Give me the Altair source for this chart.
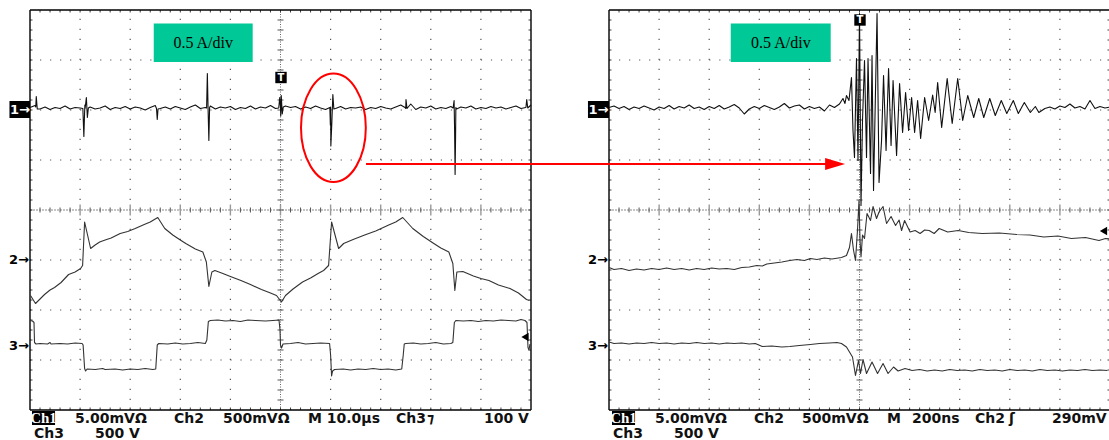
import altair as alt
import pandas as pd

# ---------------- values read from the two scope screens (in divisions) ----------------
# channel reference markers (divisions above the bottom of the graticule)
CH_LEVEL = {"1": 6.0, "2": 3.0, "3": 1.30}
RIGHT_OFFSET = 11.557          # second screen starts 11.557 divisions right of the first

# ---- LEFT screen (10.0 µs/div) ----
# Ch1 (current) noise, one sample every 0.1 div, offsets from the Ch1 marker
ch1_left_noise = [
    0.05, 0.09, 0.02, 0.06, 0.01, 0.05, 0.03, 0.08, 0.02, 0.05,
    0.04, 0.03, 0.06, 0.02, 0.04, 0.08, 0.01, 0.05, 0.03, 0.07,
    0.02, 0.06, 0.04, 0.00, 0.05, 0.09, 0.03, 0.06, 0.02, 0.07,
    0.04, 0.01, 0.06, 0.10, 0.03, 0.05, 0.08, 0.02, 0.06, 0.04,
    0.07, 0.01, 0.05, 0.03, 0.08, 0.02, 0.06, 0.04, 0.09, 0.03,
    0.06, 0.08, 0.05, 0.07, 0.02, 0.06, 0.03, 0.08, 0.04, 0.01,
    0.06, 0.03, 0.07, 0.02, 0.05, 0.04, 0.06, 0.01, 0.05, 0.03,
    0.07, 0.04, 0.02, 0.06, 0.10, 0.03, 0.12, 0.01, 0.06, 0.04,
    0.08, 0.02, 0.05, 0.03, 0.07, 0.05, 0.06, 0.04, 0.08, 0.02,
    0.05, 0.03, 0.07, 0.04, 0.06, 0.02, 0.05, 0.08, 0.03, 0.06,
    0.10]
ch1_left_spike_x = [0.115, 0.125, 0.145,
                    1.055, 1.075, 1.085, 1.095, 1.125, 1.145, 1.165,
                    2.525, 2.54, 2.555,
                    3.525, 3.54, 3.555, 3.57, 3.585,
                    4.965, 4.985, 5.005, 5.015, 5.035, 5.055,
                    5.985, 5.995, 6.005, 6.025, 6.045, 6.065,
                    7.485, 7.505, 7.525,
                    8.445, 8.465, 8.475, 8.485, 8.495, 8.515,
                    9.895, 9.915, 9.935]
ch1_left_spike_y = [0.06, 0.27, 0.02,
                    0.03, -0.53, -0.20, 0.10, 0.25, -0.15, 0.04,
                    0.03, -0.19, 0.02,
                    0.04, 0.73, 0.00, -0.61, 0.05,
                    0.04, 0.25, -0.12, 0.29, -0.08, 0.06,
                    0.05, -0.30, -0.72, -0.25, 0.31, 0.02,
                    0.05, 0.21, 0.03,
                    0.04, 0.19, -0.40, -1.29, -0.50, 0.02,
                    0.05, 0.21, 0.04]
# Ch2
ch2_left_x = [0.01, 0.11, 0.20, 0.29, 0.40, 0.49, 0.62, 0.77, 0.90, 1.01,
              1.05, 1.09, 1.21, 1.30, 1.39, 1.50, 1.62, 1.80, 1.95, 2.10,
              2.28, 2.40, 2.55, 2.69, 2.85, 3.00, 3.11, 3.30, 3.45, 3.52,
              3.57, 3.63, 3.69, 3.85, 4.00, 4.21, 4.40, 4.62, 4.80, 4.92,
              5.02, 5.10, 5.25, 5.44, 5.60, 5.75, 5.86, 5.96, 6.02, 6.16,
              6.26, 6.45, 6.68, 6.90, 7.16, 7.30, 7.44, 7.64, 7.85, 8.06,
              8.20, 8.36, 8.44, 8.48, 8.52, 8.64, 8.85, 9.00, 9.16, 9.35,
              9.58, 9.75, 9.91, 9.97]
ch2_left_y = [-0.71, -0.87, -0.78, -0.69, -0.60, -0.55, -0.45, -0.29, -0.24, -0.17,
              -0.11, 0.76, 0.23, 0.30, 0.36, 0.40, 0.44, 0.53, 0.57, 0.63,
              0.71, 0.76, 0.85, 0.63, 0.50, 0.40, 0.33, 0.22, 0.16, -0.04,
              -0.53, -0.24, -0.21, -0.27, -0.33, -0.41, -0.49, -0.59, -0.66, -0.71,
              -0.84, -0.71, -0.58, -0.44, -0.36, -0.27, -0.21, -0.11, 0.76, 0.23,
              0.33, 0.41, 0.50, 0.58, 0.70, 0.76, 0.85, 0.63, 0.47, 0.33,
              0.24, 0.16, -0.07, -0.61, -0.24, -0.23, -0.32, -0.37, -0.41, -0.50,
              -0.57, -0.66, -0.79, -0.81]
# Ch3
ch3_left_x = [0.00, 0.05, 0.08, 0.09, 0.12, 0.20, 0.35, 0.40, 0.42, 0.60,
              0.75, 0.90, 1.04, 1.06, 1.09, 1.11, 1.14, 1.30, 1.45, 1.50,
              1.70, 1.85, 2.00, 2.15, 2.30, 2.45, 2.51, 2.54, 2.57, 2.75,
              2.90, 3.05, 3.20, 3.35, 3.50, 3.53, 3.56, 3.60, 3.75, 3.90,
              4.05, 4.20, 4.35, 4.50, 4.70, 4.85, 4.97, 4.99, 5.00, 5.02,
              5.05, 5.20, 5.35, 5.50, 5.65, 5.80, 5.98, 6.00, 6.02, 6.04,
              6.08, 6.25, 6.40, 6.55, 6.70, 6.85, 7.00, 7.15, 7.30, 7.42,
              7.45, 7.47, 7.50, 7.65, 7.80, 7.95, 8.10, 8.25, 8.40, 8.44,
              8.47, 8.50, 8.65, 8.80, 8.95, 9.10, 9.25, 9.40, 9.55, 9.70,
              9.80, 9.88, 9.92, 9.94, 9.96, 9.98]
ch3_left_y = [0.49, 0.48, 0.45, 0.05, 0.02, 0.03, 0.02, 0.05, 0.02, 0.03,
              0.02, 0.04, 0.03, 0.00, -0.47, -0.52, -0.48, -0.49, -0.47, -0.49,
              -0.48, -0.50, -0.48, -0.49, -0.47, -0.49, -0.48, 0.00, 0.03, 0.02,
              0.04, 0.02, 0.03, 0.05, 0.03, 0.10, 0.47, 0.49, 0.50, 0.48,
              0.49, 0.47, 0.50, 0.49, 0.48, 0.49, 0.50, 0.30, 0.00, -0.06,
              0.02, 0.03, 0.05, 0.02, 0.03, 0.04, 0.03, -0.20, -0.62, -0.52,
              -0.49, -0.48, -0.50, -0.48, -0.49, -0.47, -0.49, -0.48, -0.50, -0.48,
              -0.20, 0.02, 0.03, 0.04, 0.02, 0.03, 0.05, 0.02, 0.03, 0.05,
              0.45, 0.49, 0.48, 0.49, 0.47, 0.49, 0.48, 0.50, 0.49, 0.48,
              0.51, 0.49, 0.45, -0.05, -0.10, 0.02]

# ---- RIGHT screen (200 ns/div) ----
ch1_right_noise_a = [   # 0.0 .. 4.6 div, every 0.1 div
    0.05, 0.08, 0.03, 0.07, 0.01, 0.06, 0.03, 0.08, 0.04, 0.00,
    0.06, 0.03, 0.09, 0.02, 0.07, 0.04, 0.10, 0.03, 0.06, 0.01,
    0.07, 0.03, 0.09, 0.02, 0.06, 0.11, 0.04, -0.08, 0.02, 0.07,
    0.03, 0.09, 0.05, 0.01, 0.06, 0.13, 0.04, 0.08, 0.10, 0.02,
    0.07, 0.03, 0.06, -0.02, 0.10, 0.05, 0.12]
ch1_right_burst_x = [4.67, 4.71, 4.74, 4.79, 4.84, 4.87, 4.90, 4.94, 4.97, 5.00,
                     5.03, 5.06, 5.10, 5.14, 5.17, 5.22, 5.25, 5.28, 5.35, 5.39,
                     5.44, 5.48, 5.53, 5.58, 5.63, 5.67, 5.74, 5.80, 5.86, 5.92,
                     5.98, 6.04, 6.10, 6.16, 6.22, 6.30, 6.38, 6.46, 6.51, 6.56,
                     6.64, 6.75, 6.85, 6.96, 7.06, 7.16, 7.28, 7.38, 7.48, 7.60,
                     7.71, 7.83, 7.94, 8.07, 8.17, 8.29, 8.41, 8.51, 8.58]
ch1_right_burst_y = [0.23, 0.13, 0.29, 0.19, 0.65, -0.41, -0.95, 1.03, -1.01, 1.93,
                     -1.91, -0.21, 0.99, -0.95, 1.03, -1.27, 1.09, -1.61, 1.93, -1.45,
                     -0.61, 0.69, -0.81, 0.83, -0.71, 0.59, -0.91, 0.53, -0.45, 0.35,
                     -0.41, 0.25, -0.45, 0.19, -0.57, 0.25, -0.21, 0.30, -0.05, 0.55,
                     -0.35, 0.63, -0.27, 0.63, -0.21, 0.29, -0.15, 0.23, -0.15, 0.23,
                     -0.11, 0.19, -0.07, 0.19, -0.07, 0.15, -0.05, 0.07, -0.05]
ch1_right_noise_b = [   # 8.7 .. 10.0 div, every 0.1 div
    0.03, 0.06, 0.02, 0.08, 0.05, 0.12, 0.04, 0.07, 0.02, 0.19,
    0.03, 0.07, 0.04, 0.06]
ch2_right_x = [0.00, 0.10, 0.25, 0.40, 0.55, 0.70, 0.85, 1.00, 1.15, 1.30,
               1.45, 1.60, 1.75, 1.90, 2.05, 2.20, 2.35, 2.50, 2.65, 2.80,
               2.95, 3.06, 3.15, 3.30, 3.45, 3.61, 3.75, 3.90, 4.02, 4.15,
               4.30, 4.45, 4.64, 4.74, 4.80, 4.84, 4.88, 4.92, 4.96, 4.99,
               5.01, 5.03, 5.06, 5.10, 5.15, 5.22, 5.27, 5.34, 5.39, 5.47,
               5.54, 5.63, 5.72, 5.79, 5.84, 5.90, 6.01, 6.11, 6.21, 6.30,
               6.39, 6.49, 6.59, 6.76, 6.97, 7.18, 7.45, 7.79, 8.14, 8.40,
               8.68, 8.96, 9.23, 9.51, 9.78, 9.91, 10.0]
ch2_right_y = [-0.15, -0.19, -0.17, -0.21, -0.18, -0.20, -0.17, -0.19, -0.16, -0.19,
               -0.17, -0.20, -0.17, -0.19, -0.16, -0.18, -0.17, -0.19, -0.15, -0.14,
               -0.11, -0.12, -0.08, -0.06, -0.04, -0.01, 0.01, -0.01, 0.03, 0.01,
               0.04, 0.02, 0.05, 0.09, 0.25, 0.53, 0.20, -0.01, 0.60, 1.19,
               0.40, 0.06, 0.50, 0.43, 0.93, 0.79, 1.07, 0.83, 0.96, 1.07,
               0.73, 0.87, 0.69, 0.80, 0.59, 0.79, 0.56, 0.59, 0.53, 0.60,
               0.59, 0.53, 0.63, 0.56, 0.59, 0.55, 0.53, 0.54, 0.51, 0.50,
               0.46, 0.48, 0.43, 0.45, 0.39, 0.43, 0.42]
ch3_right_x = [0.00, 0.10, 0.25, 0.40, 0.55, 0.70, 0.85, 1.00, 1.15, 1.30,
               1.45, 1.60, 1.75, 1.90, 2.05, 2.20, 2.35, 2.50, 2.65, 2.80,
               2.92, 3.06, 3.25, 3.45, 3.61, 3.80, 4.02, 4.20, 4.40, 4.55,
               4.64, 4.74, 4.86, 4.92, 4.98, 5.02, 5.07, 5.14, 5.25, 5.36,
               5.47, 5.57, 5.68, 5.77, 5.91, 6.05, 6.20, 6.35, 6.50, 6.65,
               6.80, 6.95, 7.10, 7.25, 7.40, 7.55, 7.70, 7.85, 8.00, 8.15,
               8.30, 8.45, 8.60, 8.75, 8.90, 9.05, 9.20, 9.35, 9.50, 9.65,
               9.80, 9.95]
ch3_right_y = [0.06, 0.03, 0.04, 0.02, 0.04, 0.03, 0.05, 0.03, 0.04, 0.02,
               0.04, 0.03, 0.05, 0.03, 0.04, 0.02, 0.04, 0.03, 0.04, 0.02,
               0.03, -0.03, -0.02, -0.04, -0.03, -0.01, 0.01, 0.03, 0.04, 0.05,
               0.03, -0.04, -0.24, -0.61, -0.31, -0.57, -0.29, -0.57, -0.34, -0.57,
               -0.37, -0.57, -0.44, -0.52, -0.47, -0.51, -0.49, -0.52, -0.50, -0.52,
               -0.49, -0.51, -0.50, -0.52, -0.49, -0.51, -0.50, -0.52, -0.49, -0.51,
               -0.50, -0.52, -0.49, -0.51, -0.50, -0.52, -0.50, -0.51, -0.49, -0.51,
               -0.50, -0.51]

# readout texts
left_line1 = ["5.00mVΩ", "Ch2", "500mVΩ", "M 10.0µs", "Ch3", "⁊", "100 V"]
right_line1 = ["5.00mVΩ", "Ch2", "500mVΩ", "M", "200ns", "Ch2", "ʃ", "290mV"]
line2 = ["Ch3", "500 V"]
box_label = "0.5 A/div"

# ---------------- assemble ----------------
PANELS = [0.0, RIGHT_OFFSET]
COLORS = {"1": "#111111", "2": "#333333", "3": "#333333"}


def trace(xs, ys, off, ch, name):
    pts = sorted(zip(xs, ys), key=lambda p: p[0])
    return pd.DataFrame({
        "x": [off + p[0] for p in pts],
        "y": [CH_LEVEL[ch] + p[1] for p in pts],
        "series": name,
        "col": COLORS[ch],
        "i": list(range(len(pts))),
    })


ch1L_x = [k * 0.1 for k in range(len(ch1_left_noise))] + ch1_left_spike_x
ch1L_y = ch1_left_noise + ch1_left_spike_y
ch1R_x = ([k * 0.1 for k in range(len(ch1_right_noise_a))] + ch1_right_burst_x
          + [8.7 + k * 0.1 for k in range(len(ch1_right_noise_b))])
ch1R_y = ch1_right_noise_a + ch1_right_burst_y + ch1_right_noise_b

traces = pd.concat([
    trace(ch3_left_x, ch3_left_y, 0.0, "3", "L3"),
    trace(ch2_left_x, ch2_left_y, 0.0, "2", "L2"),
    trace(ch1L_x, ch1L_y, 0.0, "1", "L1"),
    trace(ch3_right_x, ch3_right_y, RIGHT_OFFSET, "3", "R3"),
    trace(ch2_right_x, ch2_right_y, RIGHT_OFFSET, "2", "R2"),
    trace(ch1R_x, ch1R_y, RIGHT_OFFSET, "1", "R1"),
], ignore_index=True)

XS = alt.Scale(domain=[0, 21.537], nice=False, zero=False)
YS = alt.Scale(domain=[0, 8], nice=False, zero=False)


def ex(f="x"):
    return alt.X(f"{f}:Q", scale=XS, axis=None)


def ey(f="y"):
    return alt.Y(f"{f}:Q", scale=YS, axis=None)


def vrules(rows, **style):
    return alt.Chart(pd.DataFrame(rows)).mark_rule(**style).encode(
        x=ex(), y=ey(), y2="y2:Q")


def hrules(rows, **style):
    return alt.Chart(pd.DataFrame(rows)).mark_rule(**style).encode(
        x=ex(), x2="x2:Q", y=ey())


layers = []
# graticule
layers.append(vrules([{"x": o + k, "y": 0.0, "y2": 8.0} for o in PANELS for k in range(1, 10) if k != 5],
                     color="#555555", strokeWidth=1.2, strokeDash=[1.2, 8.8]))
layers.append(hrules([{"x": o, "x2": o + 10, "y": float(k)} for o in PANELS for k in range(1, 8) if k != 4],
                     color="#555555", strokeWidth=1.2, strokeDash=[1.2, 8.82]))
layers.append(hrules([{"x": o, "x2": o + 10, "y": 4.0} for o in PANELS],
                     color="#8a8a8a", strokeWidth=1, strokeDash=[2, 1]))
layers.append(vrules([{"x": o + 5, "y": 0.0, "y2": 8.0} for o in PANELS],
                     color="#666666", strokeWidth=1, strokeDash=[1, 1.5]))
layers.append(vrules([{"x": o + j * 0.2, "y": 3.95, "y2": 4.05} for o in PANELS for j in range(1, 50) if j % 5],
                     color="#555555", strokeWidth=1))
layers.append(vrules([{"x": o + j * 0.2, "y": 3.89, "y2": 4.11} for o in PANELS for j in range(5, 50, 5)],
                     color="#999999", strokeWidth=1.4))
layers.append(hrules([{"x": o + 4.94, "x2": o + 5.06, "y": j * 0.2} for o in PANELS for j in range(1, 40)],
                     color="#555555", strokeWidth=1))
border_ticks_v = []
border_ticks_h = []
for o in PANELS:
    for j in range(1, 50):
        border_ticks_v.append({"x": o + j * 0.2, "y": 7.95, "y2": 8.0})
        border_ticks_v.append({"x": o + j * 0.2, "y": 0.0, "y2": 0.05})
    for j in range(1, 40):
        border_ticks_h.append({"x": o, "x2": o + 0.05, "y": j * 0.2})
        border_ticks_h.append({"x": o + 9.95, "x2": o + 10, "y": j * 0.2})
layers.append(vrules(border_ticks_v, color="#444444", strokeWidth=1))
layers.append(hrules(border_ticks_h, color="#444444", strokeWidth=1))
# frame
layers.append(vrules([{"x": o + e, "y": 0.0, "y2": 8.0} for o in PANELS for e in (0, 10)],
                     color="#000000", strokeWidth=1.4))
layers.append(hrules([{"x": o, "x2": o + 10, "y": e} for o in PANELS for e in (0.0, 8.0)],
                     color="#000000", strokeWidth=1.4))

# waveforms
layers.append(alt.Chart(traces).mark_line(strokeWidth=1.1, strokeJoin="round").encode(
    x=ex(), y=ey(), detail="series:N", order="i:Q",
    color=alt.Color("col:N", scale=None)))

# green boxes with label
gbox = pd.DataFrame({"x": [2.47, RIGHT_OFFSET + 2.43], "x2": [4.445, RIGHT_OFFSET + 4.425],
                     "y": [6.96, 6.96], "y2": [7.73, 7.73]})
layers.append(alt.Chart(gbox).mark_rect(color="#00c896").encode(x=ex(), x2="x2:Q", y=ey(), y2="y2:Q"))
gtext = pd.DataFrame({"x": [3.457, RIGHT_OFFSET + 3.43], "y": [7.345, 7.345], "t": [box_label, box_label]})
layers.append(alt.Chart(gtext).mark_text(font="Liberation Serif", fontSize=16, color="#000000",
                                         baseline="middle", align="center").encode(x=ex(), y=ey(), text="t:N"))

# channel markers
mbox = pd.DataFrame({"x": [-0.41, RIGHT_OFFSET - 0.42], "x2": [0.0, RIGHT_OFFSET],
                     "y": [5.84, 5.84], "y2": [6.18, 6.18]})
layers.append(alt.Chart(mbox).mark_rect(color="#000000").encode(x=ex(), x2="x2:Q", y=ey(), y2="y2:Q"))
m1 = pd.DataFrame({"x": [-0.2, RIGHT_OFFSET - 0.21], "y": [6.0, 6.0], "t": ["1→", "1→"]})
layers.append(alt.Chart(m1).mark_text(font="DejaVu Sans", fontSize=13, fontWeight="bold", color="#ffffff",
                                      baseline="middle", align="center").encode(x=ex(), y=ey(), text="t:N"))
m23 = pd.DataFrame({"x": [0.0, 0.0, RIGHT_OFFSET, RIGHT_OFFSET],
                    "y": [3.0, 1.28, 3.0, 1.28], "t": ["2→", "3→", "2→", "3→"]})
layers.append(alt.Chart(m23).mark_text(font="DejaVu Sans", fontSize=13, fontWeight="bold", color="#000000",
                                       baseline="middle", align="right", dx=-1).encode(x=ex(), y=ey(), text="t:N"))

# trigger markers
tm = pd.DataFrame({"x": [5.01, RIGHT_OFFSET + 5.01], "y": [6.65, 7.8]})
layers.append(alt.Chart(tm).mark_square(size=130, color="#000000", opacity=1).encode(x=ex(), y=ey()))
layers.append(alt.Chart(tm.assign(t="T")).mark_text(font="DejaVu Sans", fontSize=10, fontWeight="bold",
                                                    color="#ffffff", baseline="middle").encode(
    x=ex(), y=ey(), text="t:N"))
lv = pd.DataFrame({"x": [9.88, RIGHT_OFFSET + 9.87], "y": [1.46, 3.58]})
layers.append(alt.Chart(lv).mark_point(shape="triangle-left", filled=True, size=70, color="#000000",
                                       opacity=1).encode(x=ex(), y=ey()))

# red annotation: ellipse + arrow
ell = pd.DataFrame({"x": [6.056], "y": [5.644]})
ELLIPSE = ("M 0.598 0 C 0.598 0.552 0.330 1 0 1 C -0.330 1 -0.598 0.552 -0.598 0 "
           "C -0.598 -0.552 -0.330 -1 0 -1 C 0.330 -1 0.598 -0.552 0.598 0 Z")
layers.append(alt.Chart(ell).mark_point(shape=ELLIPSE, filled=False, size=11751, color="#ff0000",
                                        strokeWidth=2, opacity=1).encode(x=ex(), y=ey()))
arr = pd.DataFrame({"x": [6.707], "x2": [15.89], "y": [4.92]})
layers.append(alt.Chart(arr).mark_rule(color="#ff0000", strokeWidth=2).encode(x=ex(), x2="x2:Q", y=ey()))
head = pd.DataFrame({"x": [16.07], "y": [4.92]})
layers.append(alt.Chart(head).mark_point(shape="M -1 -0.6 L 1 0 L -1 0.6 Z", filled=True, size=400,
                                         color="#ff0000", opacity=1).encode(x=ex(), y=ey()))

# readout line
cbox = pd.DataFrame({"x": [0.04, RIGHT_OFFSET + 0.06], "x2": [0.50, RIGHT_OFFSET + 0.52],
                     "y": [-0.30, -0.30], "y2": [-0.02, -0.02]})
layers.append(alt.Chart(cbox).mark_rect(color="#000000").encode(x=ex(), x2="x2:Q", y=ey(), y2="y2:Q"))
ch1lab = pd.DataFrame({"x": [0.27, RIGHT_OFFSET + 0.29], "y": [-0.25, -0.25], "t": ["Ch1", "Ch1"]})
layers.append(alt.Chart(ch1lab).mark_text(color="#ffffff", font="Liberation Sans Narrow", fontSize=15,
                                          fontWeight="bold", align="center", baseline="alphabetic").encode(
    x=ex(), y=ey(), text="t:N"))
TXT = dict(font="DejaVu Sans", fontSize=14, fontWeight="bold", align="left", baseline="alphabetic")
left_pos = [0.898, 2.874, 3.852, 5.549, 7.305, 7.924, 9.062]
right_pos = [0.918, 2.894, 3.852, 5.549, 6.048, 7.305, 7.984, 8.842]
line2_pos = [0.08, 1.297]
rt = pd.DataFrame({
    "x": left_pos + [RIGHT_OFFSET + p for p in right_pos] + line2_pos + [RIGHT_OFFSET + p for p in line2_pos],
    "y": [-0.25] * 15 + [-0.555] * 4,
    "t": left_line1 + right_line1 + line2 + line2,
})
layers.append(alt.Chart(rt).mark_text(color="#111111", **TXT).encode(x=ex(), y=ey(), text="t:N"))

chart = alt.layer(*layers).properties(
    width=1079, height=400,
    autosize=alt.AutoSizeParams(type="none"),
    padding={"left": 30, "top": 10, "right": 0, "bottom": 30},
).configure_view(stroke="transparent")

chart.save("out.html", embed_options={"renderer": "svg", "actions": False})
